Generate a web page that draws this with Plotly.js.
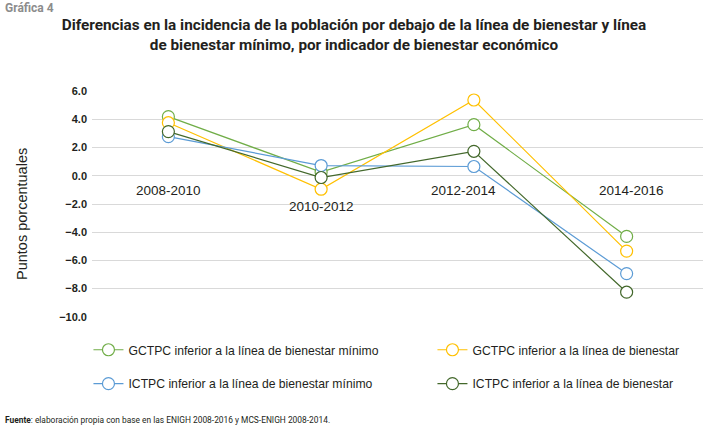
<!DOCTYPE html>
<html><head><meta charset="utf-8">
<script src="https://cdn.plot.ly/plotly-3.0.1.min.js"></script>
<style>body{margin:0;padding:0;background:#fff}#chart{width:707px;height:429px}</style>
</head><body><div id="chart"></div>
<script>
const categories = ['2008-2010','2010-2012','2012-2014','2014-2016'];
const seriesNames = [
  'GCTPC inferior a la línea de bienestar mínimo',
  'GCTPC inferior a la línea de bienestar',
  'ICTPC inferior a la línea de bienestar mínimo',
  'ICTPC inferior a la línea de bienestar'
];
const gctpcMinimo    = [4.2, 0.26, 3.63, -4.3];
const gctpcBienestar = [3.77, -0.95, 5.38, -5.34];
const ictpcMinimo    = [2.78, 0.73, 0.66, -6.94];
const ictpcBienestar = [3.14, -0.12, 1.74, -8.26];
const yTicks = [-10, -8, -6, -4, -2, 0, 2, 4, 6];

const colors = ['#70AD47', '#FFC000', '#5B9BD5', '#43682B'];
const values = [gctpcMinimo, gctpcBienestar, ictpcMinimo, ictpcBienestar];
const legendIds = ['legend', 'legend2', 'legend3', 'legend4'];
const traces = values.map((v, i) => ({
  type: 'scatter', mode: 'lines+markers',
  x: categories, y: v, name: seriesNames[i],
  legend: legendIds[i],
  line: {color: colors[i], width: 1.2},
  marker: {symbol: 'circle', size: 12, color: '#ffffff', line: {color: colors[i], width: 1.2}},
  hoverinfo: 'skip'
}));

const labelPos = [[0, -1.05], [0, -2.15], [-0.07, -1.05], [0.03, -1.05]];
const annotations = categories.map((c, i) => ({
  x: i + labelPos[i][0], y: labelPos[i][1], xref: 'x', yref: 'y',
  text: c, showarrow: false,
  font: {family: 'Liberation Sans, Arial, sans-serif', size: 13.5, color: '#231f20'}
}));
annotations.push({
  text: 'Puntos porcentuales', textangle: -90, showarrow: false,
  xref: 'paper', yref: 'paper', x: -0.1136, y: 0.454, xanchor: 'center', yanchor: 'middle',
  font: {family: 'Liberation Sans, Arial, sans-serif', size: 14.5, color: '#231f20'}
});
annotations.push({
  text: '<b>Gráfica 4</b>', showarrow: false, xref: 'paper', yref: 'paper',
  x: -0.1462, y: 1.366, xanchor: 'left', yanchor: 'middle',
  font: {family: 'Roboto, sans-serif', size: 12, color: '#8c8c8c'}
});
annotations.push({
  text: '<b>Fuente</b>: elaboración propia con base en las ENIGH 2008-2016 y MCS-ENIGH 2008-2014.',
  showarrow: false, xref: 'paper', yref: 'paper',
  x: -0.1462, y: -0.457, xanchor: 'left', yanchor: 'middle',
  font: {family: 'Roboto, sans-serif', size: 8.4, color: '#231f20'}
});

const legendFont = {family: 'Liberation Sans, Arial, sans-serif', size: 12.2, color: '#231f20'};
function leg(x, y) {
  return {orientation: 'h', x: x, xanchor: 'left', y: y, yanchor: 'middle',
          font: legendFont, bgcolor: 'rgba(0,0,0,0)'};
}

const layout = {
  width: 707, height: 429,
  margin: {l: 91.5, r: 3.5, t: 90.7, b: 112.3},
  paper_bgcolor: '#ffffff', plot_bgcolor: '#ffffff',
  showlegend: true,
  title: {
    text: '<b>Diferencias en la incidencia de la población por debajo de la línea de bienestar y línea<br>de bienestar mínimo, por indicador de bienestar económico</b>',
    x: 0.5007, xanchor: 'center', y: 0.930, yanchor: 'middle',
    font: {family: 'Roboto, sans-serif', size: 15.3, color: '#231f20'}
  },
  xaxis: {
    type: 'category', range: [-0.5, 3.5], showticklabels: false,
    showgrid: false, zeroline: false, showline: false, ticks: '', fixedrange: true
  },
  yaxis: {
    range: [-10.02, 6.02], tickvals: yTicks, tickformat: '.1f',
    showgrid: true, gridcolor: '#d9d9d9', gridwidth: 1,
    zeroline: false, showline: false, ticks: '',
    tickfont: {family: 'Liberation Sans, Arial, sans-serif', size: 11, color: '#231f20', weight: 'bold'},
    ticklabelstandoff: 4
  },
  legend:  leg(-0.0058, -0.145),
  legend2: leg(0.5572, -0.145),
  legend3: leg(-0.0058, -0.295),
  legend4: leg(0.5572, -0.295),
  annotations: annotations
};
Plotly.newPlot('chart', traces, layout, {staticPlot: true, displayModeBar: false});
</script></body></html>
